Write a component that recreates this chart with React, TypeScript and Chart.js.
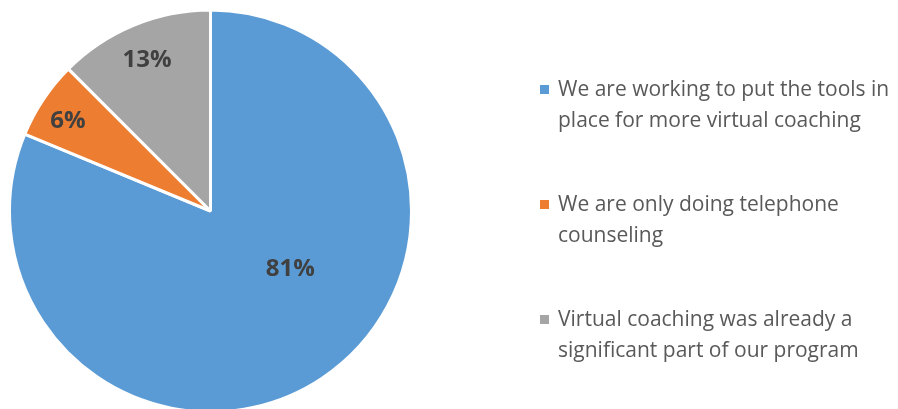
import React, { useEffect, useRef } from "react";
import { Chart, registerables } from "chart.js";

Chart.register(...registerables);

// ---- Data ----
const categories: string[][] = [
  ["We are working to put the tools in", "place for more virtual coaching"],
  ["We are only doing telephone", "counseling"],
  ["Virtual coaching was already a", "significant part of our program"],
];
const values: number[] = [81.25, 6.25, 12.5];
const colors: string[] = ["#5B9BD5", "#ED7D31", "#A5A5A5"];

// ---- Label placement style (fractions of radius / angle tweaks) ----
const labelRadiusFactor = [0.49, 0.85, 0.83];
const labelAngleShiftDeg = [-21, -1, 0];
const LABEL_FONT_SIZE = 24;

const sliceLabelPlugin = {
  id: "sliceLabels",
  afterDatasetsDraw(chart: any) {
    const ctx = chart.ctx as CanvasRenderingContext2D;
    const meta = chart.getDatasetMeta(0);
    ctx.save();
    ctx.font = `bold ${LABEL_FONT_SIZE}px 'Open Sans', sans-serif`;
    ctx.fillStyle = "#404040";
    ctx.textAlign = "center";
    ctx.textBaseline = "alphabetic";
    meta.data.forEach((arc: any, i: number) => {
      const { x, y, startAngle, endAngle, outerRadius } = arc.getProps(
        ["x", "y", "startAngle", "endAngle", "outerRadius"],
        true
      );
      const mid = (startAngle + endAngle) / 2 + (labelAngleShiftDeg[i] * Math.PI) / 180;
      const r = (outerRadius - 1.5) * labelRadiusFactor[i];
      const text = `${Math.round(values[i])}%`;
      ctx.fillText(text, x + Math.cos(mid) * r, y + Math.sin(mid) * r + LABEL_FONT_SIZE * 0.357);
    });
    ctx.restore();
  },
};

export default function App() {
  const ref = useRef<HTMLCanvasElement>(null);

  useEffect(() => {
    document.body.style.margin = "0";
    const chart = new Chart(ref.current as HTMLCanvasElement, {
      type: "pie",
      data: {
        labels: categories,
        datasets: [
          {
            data: values,
            backgroundColor: colors,
            borderColor: "#ffffff",
            borderWidth: 3,
            radius: 201,
          } as any,
        ],
      },
      options: {
        responsive: false,
        animation: false,
        layout: { padding: { left: 8, right: 485, top: 13, bottom: 0 } },
        plugins: {
          legend: { display: false },
          tooltip: { enabled: false },
        },
      },
      plugins: [sliceLabelPlugin],
    });
    return () => chart.destroy();
  }, []);

  return (
    <div
      style={{
        position: "relative",
        width: 898,
        height: 409,
        overflow: "hidden",
        background: "#ffffff",
      }}
    >
      <canvas
        ref={ref}
        width={898}
        height={409}
        style={{ position: "absolute", left: 0, top: 0 }}
      />
      <div
        style={{
          position: "absolute",
          left: 540,
          top: 73,
          fontFamily: "'Open Sans', sans-serif",
          fontSize: 21,
          lineHeight: "30.5px",
          color: "#595959",
        }}
      >
        {categories.map((lines, i) => (
          <div
            key={i}
            style={{
              position: "relative",
              paddingLeft: 18,
              marginBottom: i < categories.length - 1 ? 54 : 0,
            }}
          >
            <span
              style={{
                position: "absolute",
                left: 0,
                top: 12,
                width: 9,
                height: 9,
                background: colors[i],
              }}
            />
            {lines.map((l, j) => (
              <div key={j} style={{ whiteSpace: "nowrap" }}>
                {l}
              </div>
            ))}
          </div>
        ))}
      </div>
    </div>
  );
}
